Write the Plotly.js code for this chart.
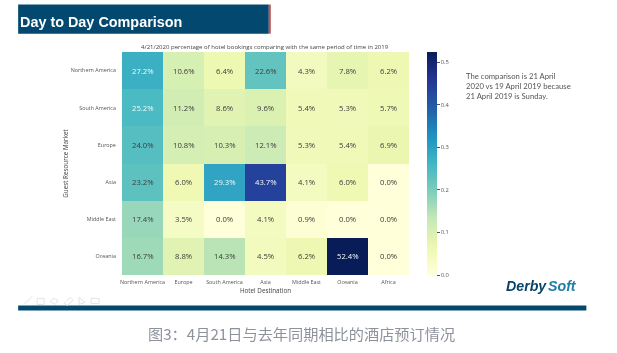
<!DOCTYPE html>
<html>
<head>
<meta charset="utf-8">
<script src="https://cdn.plot.ly/plotly-3.0.1.min.js"></script>
<style>html,body{margin:0;padding:0;background:#fff;overflow:hidden}#c{width:617px;height:353px;filter:blur(0.3px)}</style>
</head>
<body>
<div id="c"></div>
<script>
const destinations = ["Northern America","Europe","South America","Asia","Middle East","Oceania","Africa"];
const markets = ["Northern America","South America","Europe","Asia","Middle East","Oceania"];
const rowNorthAmerica = [0.272,0.106,0.064,0.226,0.043,0.078,0.062];
const rowSouthAmerica = [0.252,0.112,0.086,0.096,0.054,0.053,0.057];
const rowEurope = [0.240,0.108,0.103,0.121,0.053,0.054,0.069];
const rowAsia = [0.232,0.060,0.293,0.437,0.041,0.060,0.000];
const rowMiddleEast = [0.174,0.035,0.000,0.041,0.009,0.000,0.000];
const rowOceania = [0.167,0.088,0.143,0.045,0.062,0.524,0.000];
const values = [rowNorthAmerica,rowSouthAmerica,rowEurope,rowAsia,rowMiddleEast,rowOceania];
const colorbarTicks = [0,0.1,0.2,0.3,0.4,0.5];
const ylgnbu = [[0,"#ffffd9"],[0.125,"#edf8b1"],[0.25,"#c7e9b4"],[0.375,"#7fcdbb"],[0.5,"#41b6c4"],[0.625,"#1d91c0"],[0.75,"#225ea8"],[0.875,"#253494"],[1,"#081d58"]];

const W=617,H=353,L=122,R=409.4,T=52.3,B=274.7;
const FONT="Open Sans";
const px=x=>(x-L)/(R-L), py=y=>(B-y)/(B-T);
const rect=(x0,y0,x1,y1,c)=>({type:"rect",xref:"paper",yref:"paper",x0:px(x0),x1:px(x1),y0:py(y0),y1:py(y1),fillcolor:c,line:{width:0},layer:"below"});
const note=(x,y,text,size,color,family,xa,extra)=>Object.assign({xref:"paper",yref:"paper",x:px(x),y:py(y),text,showarrow:false,xanchor:xa||"left",yanchor:"middle",align:xa||"left",font:{size,color,family}},extra||{});

const cellNotes=[];
values.forEach((row,r)=>row.forEach((v,c)=>cellNotes.push({xref:"x",yref:"y",x:destinations[c],y:markets[r],text:(v*100).toFixed(1)+"%",showarrow:false,font:{size:7.7,family:FONT,color:v>=0.25?"#f4f8fb":"#3c3c3c"}})));

const icon=(d)=>({type:"path",xref:"paper",yref:"paper",path:d,line:{color:"#e3e3e3",width:1},layer:"below"});
const pth=pts=>"M"+pts.map(p=>px(p[0])+","+py(p[1])).join("L");
const hidden="rgba(0,0,0,0)";

Plotly.newPlot("c",[{
  type:"heatmap",x:destinations,y:markets,z:values,colorscale:ylgnbu,zmin:0,zmax:0.524,xgap:0,ygap:0,hoverongaps:false,
  colorbar:{x:px(427.3),xanchor:"left",y:0,yanchor:"bottom",lenmode:"fraction",len:1,thicknessmode:"pixels",thickness:10.4,outlinewidth:0,tickmode:"array",tickvals:colorbarTicks,ticktext:colorbarTicks.map(v=>v.toFixed(1)),ticks:"outside",ticklen:3,tickwidth:1,tickcolor:"#555",tickfont:{size:5.8,family:FONT,color:"#555"},xpad:0,ypad:0}
}],{
  width:W,height:H,paper_bgcolor:"#fff",plot_bgcolor:"#fff",showlegend:false,
  margin:{l:L,r:W-R,t:T,b:H-B,pad:0},
  xaxis:{type:"category",side:"bottom",showgrid:false,zeroline:false,showline:false,ticks:"outside",ticklen:2,tickcolor:hidden,tickangle:0,tickfont:{size:5.4,family:FONT,color:"#555"},title:{text:"Hotel Destination",font:{size:6.3,family:FONT,color:"#444"},standoff:0}},
  yaxis:{type:"category",autorange:"reversed",showgrid:false,zeroline:false,showline:false,ticks:"outside",ticklen:4,tickcolor:hidden,tickfont:{size:5.4,family:FONT,color:"#555"},title:{text:"Guest Resource Market",font:{size:6.3,family:FONT,color:"#444"},standoff:1}},
  shapes:[
    rect(18,5,269,34,"#02486f"),
    rect(269,5,271,34,"#c0504d"),
    rect(18,305,587,310,"#02486f"),
    icon(pth([[24,304],[32,296]])),
    icon(pth([[37,298],[44,298],[44,304],[37,304],[37,298]])),
    icon(pth([[50,301],[54,298],[58,300],[55,304],[50,301]])),
    icon(pth([[64,303],[70,297],[73,300],[67,305],[64,303]])),
    icon(pth([[79,297],[79,304],[85,302],[79,297]])),
    icon(pth([[91,298],[99,298],[99,303],[91,303],[91,298]]))
  ],
  annotations:cellNotes.concat([
    note(17.5,22.5,"<b>Day to Day Comparison</b>",14.4,"#ffffff","Liberation Sans"),
    note(265.6,47.6,"4/21/2020 percentage of hotel bookings comparing with the same period of time in 2019",6.0,"#444",FONT,"center"),
    note(464.5,86,"The comparison is 21 April<br>2020 vs 19 April 2019 because<br>21 April 2019 is Sunday.",7.7,"#555","Lato"),
    note(505,286,"<b><i>Derby</i></b>",14.2,"#05436b","Liberation Sans"),
    note(546.5,286,"<b><i>Soft</i></b>",14.2,"#1f7ea6","Liberation Sans"),
    note(302,333,"图3：4月21日与去年同期相比的酒店预订情况",15.2,"#8d929c","Noto Sans CJK SC","center")
  ])
},{displayModeBar:false,staticPlot:true});
</script>
</body>
</html>
